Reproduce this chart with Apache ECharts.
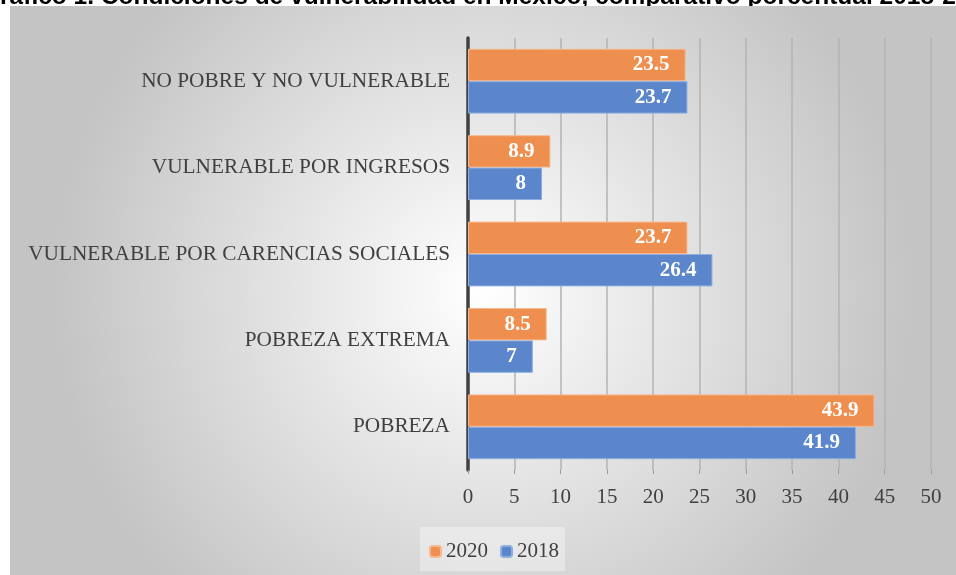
<!DOCTYPE html>
<html>
<head>
<meta charset="utf-8">
<script src="https://cdn.jsdelivr.net/npm/echarts@6/dist/echarts.min.js"></script>
<style>
html, body { margin: 0; padding: 0; background: #fff; }
#chart { width: 956px; height: 575px; }
</style>
</head>
<body>
<div id="chart"></div>
<script>
var categories = ['POBREZA', 'POBREZA EXTREMA', 'VULNERABLE POR CARENCIAS SOCIALES', 'VULNERABLE POR INGRESOS', 'NO POBRE Y NO VULNERABLE'];
var values2020 = [43.9, 8.5, 23.7, 8.9, 23.5];
var values2018 = [41.9, 7, 26.4, 8, 23.7];
var xTicks = { min: 0, max: 50, interval: 5 };

var serif = '"Liberation Serif", "DejaVu Serif", serif';
var myChart = echarts.init(document.getElementById('chart'));

var valueLabel = {
    show: true,
    position: 'insideRight',
    distance: 16,
    color: '#fff',
    fontFamily: serif,
    fontWeight: 'bold',
    fontSize: 21
};

option = {
    backgroundColor: '#fff',
    graphic: [
        {
            type: 'text',
            silent: true,
            z: -12,
            left: -19,
            top: -15,
            style: {
                text: 'Gráfico 1. Condiciones de vulnerabilidad en México, comparativo porcentual 2018-2020',
                fontFamily: '"Liberation Sans", Arial, sans-serif',
                fontWeight: 'bold',
                fontSize: 24.5,
                fill: '#000'
            }
        },
        {
            type: 'rect',
            z: -10,
            silent: true,
            shape: { x: 10, y: 6, width: 946, height: 569 },
            style: {
                fill: {
                    type: 'radial', x: 0.5, y: 0.5, r: 0.75,
                    colorStops: [
                        { offset: 0, color: '#ffffff' },
                        { offset: 1, color: '#c4c4c4' }
                    ]
                }
            }
        },
        {
            type: 'rect',
            z: -9,
            silent: true,
            shape: { x: 420, y: 527, width: 145, height: 44 },
            style: { fill: 'rgba(255,255,255,0.35)' }
        }
    ],
    legend: {
        data: ['2020', '2018'],
        bottom: 8,
        left: 424,
        itemWidth: 11,
        itemHeight: 11,
        itemGap: 12,
        textStyle: { fontFamily: serif, fontSize: 21, color: '#404040' }
    },
    grid: { left: 468, right: 25, top: 38, bottom: 105 },
    xAxis: {
        type: 'value',
        min: xTicks.min,
        max: xTicks.max,
        interval: xTicks.interval,
        axisLine: { show: false },
        axisTick: { show: true, length: 4, lineStyle: { color: '#999' } },
        axisLabel: { margin: 17, fontFamily: serif, fontSize: 21, color: '#404040' },
        splitLine: { show: true, lineStyle: { color: '#b3b3b3', width: 1.5 } }
    },
    yAxis: {
        type: 'category',
        data: categories,
        axisLine: { show: true, lineStyle: { color: '#404040', width: 3.5 } },
        axisTick: { show: false },
        axisLabel: { margin: 18, fontFamily: serif, fontSize: 21.3, color: '#404040' }
    },
    series: [
        {
            name: '2020',
            type: 'bar',
            data: values2020,
            barGap: '0%',
            barCategoryGap: '25%',
            itemStyle: { color: '#ef8f4f', borderColor: '#f6b88e', borderWidth: 1 },
            label: valueLabel
        },
        {
            name: '2018',
            type: 'bar',
            data: values2018,
            barGap: '0%',
            barCategoryGap: '25%',
            itemStyle: { color: '#5b86cc', borderColor: '#8eaee0', borderWidth: 1 },
            label: valueLabel
        }
    ]
};
myChart.setOption(option, true);
</script>
</body>
</html>
